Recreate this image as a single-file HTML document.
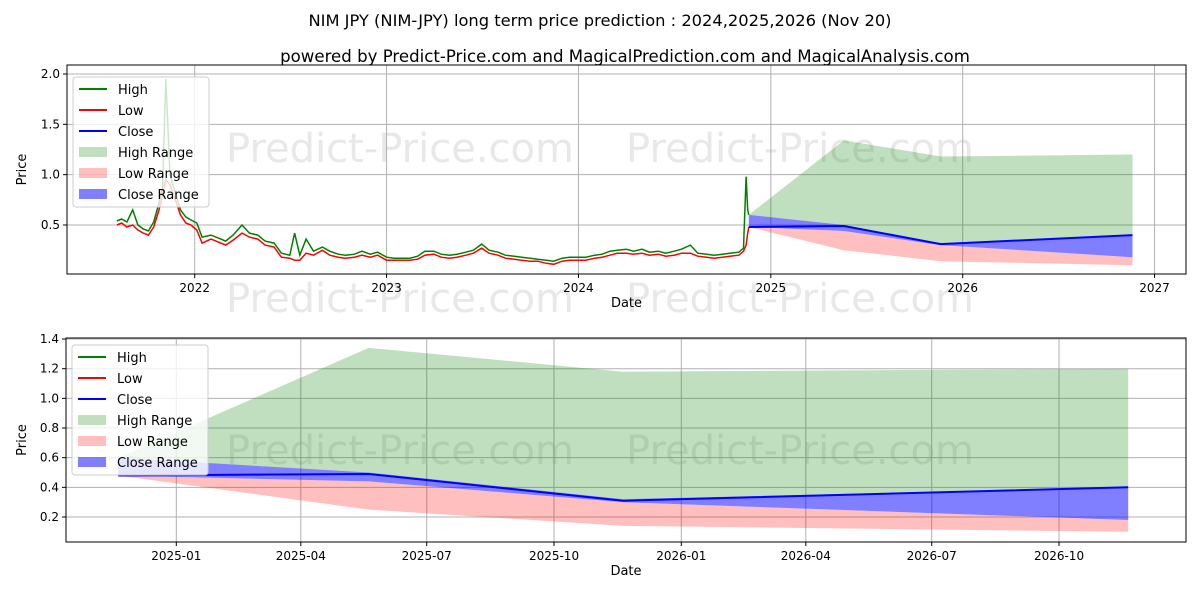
<!DOCTYPE html>
<html><head><meta charset="utf-8"><style>
body{margin:0;background:#fff;font-family:"Liberation Sans","DejaVu Sans",sans-serif;}
svg text{font-family:"DejaVu Sans","Liberation Sans",sans-serif;}
</style></head><body>
<svg id="c" width="1200" height="600" xmlns="http://www.w3.org/2000/svg">
<rect width="1200" height="600" fill="#fff"/>
<text x="600" y="26" font-size="16.3" text-anchor="middle">NIM JPY (NIM-JPY) long term price prediction : 2024,2025,2026 (Nov 20)</text>
<text x="625" y="62" font-size="16.6" text-anchor="middle">powered by Predict-Price.com and MagicalPrediction.com and MagicalAnalysis.com</text>
<g id="top"></g><g id="bot"></g>
</svg>
<script>
// historical data
const histDates=["2021-08-06","2021-08-15","2021-08-25","2021-09-05","2021-09-15","2021-09-25","2021-10-05","2021-10-15","2021-10-25","2021-11-01","2021-11-07","2021-11-15","2021-11-25","2021-12-05","2021-12-15","2021-12-25","2022-01-05","2022-01-15","2022-02-01","2022-02-15","2022-03-01","2022-03-15","2022-04-01","2022-04-15","2022-05-01","2022-05-15","2022-06-01","2022-06-15","2022-07-01","2022-07-10","2022-07-20","2022-08-01","2022-08-15","2022-09-01","2022-09-15","2022-10-01","2022-10-15","2022-11-01","2022-11-15","2022-12-01","2022-12-15","2023-01-01","2023-01-15","2023-02-01","2023-02-15","2023-03-01","2023-03-15","2023-04-01","2023-04-15","2023-05-01","2023-05-15","2023-06-01","2023-06-15","2023-07-01","2023-07-15","2023-08-01","2023-08-15","2023-09-01","2023-09-15","2023-10-01","2023-10-15","2023-11-01","2023-11-15","2023-12-01","2023-12-15","2024-01-01","2024-01-15","2024-02-01","2024-02-15","2024-03-01","2024-03-15","2024-04-01","2024-04-15","2024-05-01","2024-05-15","2024-06-01","2024-06-15","2024-07-01","2024-07-15","2024-08-01","2024-08-15","2024-09-01","2024-09-15","2024-10-01","2024-10-15","2024-11-01","2024-11-10","2024-11-15","2024-11-18","2024-11-20"];
const histLow=[0.5,0.52,0.48,0.5,0.45,0.42,0.4,0.48,0.65,0.8,0.95,0.9,0.75,0.6,0.52,0.5,0.45,0.32,0.36,0.33,0.3,0.35,0.42,0.38,0.36,0.3,0.28,0.18,0.17,0.15,0.15,0.22,0.2,0.25,0.2,0.18,0.17,0.18,0.2,0.18,0.2,0.15,0.15,0.15,0.15,0.16,0.2,0.21,0.18,0.17,0.18,0.2,0.22,0.27,0.22,0.2,0.17,0.16,0.15,0.14,0.14,0.12,0.11,0.14,0.15,0.15,0.15,0.17,0.18,0.2,0.22,0.22,0.21,0.22,0.2,0.21,0.19,0.2,0.22,0.22,0.19,0.18,0.17,0.18,0.19,0.2,0.24,0.3,0.42,0.48];
const histHigh=[0.54,0.56,0.53,0.65,0.5,0.46,0.44,0.53,0.72,0.88,1.95,1.0,0.82,0.65,0.58,0.55,0.52,0.38,0.4,0.37,0.34,0.4,0.5,0.42,0.4,0.34,0.32,0.22,0.2,0.42,0.2,0.36,0.24,0.28,0.24,0.21,0.2,0.21,0.24,0.21,0.23,0.18,0.17,0.17,0.17,0.19,0.24,0.24,0.21,0.2,0.21,0.23,0.25,0.31,0.25,0.23,0.2,0.19,0.18,0.17,0.16,0.15,0.14,0.17,0.18,0.18,0.18,0.2,0.21,0.24,0.25,0.26,0.24,0.26,0.23,0.24,0.22,0.24,0.26,0.3,0.22,0.21,0.2,0.21,0.22,0.23,0.27,0.98,0.65,0.6];
// prediction data
const predDates=["2024-11-20","2025-05-20","2025-11-20","2026-11-20"];
const predClose=[0.48,0.49,0.31,0.40];
const predHighMax=[0.60,1.34,1.18,1.20];
const predCloseHi=[0.60,0.50,0.32,0.40];
const predCloseLo=[0.48,0.44,0.30,0.18];
const predLowMin=[0.48,0.25,0.14,0.10];

const NS="http://www.w3.org/2000/svg";
const day=s=>Date.parse(s)/86400000;
function el(p,t,a){const e=document.createElementNS(NS,t);for(const k in a)e.setAttribute(k,a[k]);p.appendChild(e);return e;}
function pts(ds,vs,X,Y){return ds.map((d,i)=>X(day(d)).toFixed(1)+","+Y(vs[i]).toFixed(1));}
function band(ds,up,lo,X,Y){return pts(ds,up,X,Y).concat(pts(ds,lo,X,Y).reverse()).join(" ");}

function panel(g,o){
  const {L,R,T,B,X,Y,xt,yt,legY}=o;
  for(const [wx,wy] of o.wm){const w=el(g,"text",{x:wx,y:wy,"font-size":40,fill:"#e8e8e8","text-anchor":"middle"});w.textContent="Predict-Price.com";
  
  }
  xt.forEach(t=>{const x=X(day(t[0]));const l=el(g,"line",{x1:x,x2:x,y1:T,y2:B,stroke:"#b0b0b0","stroke-width":1});
  
  
  el(g,"line",{x1:x,x2:x,y1:B,y2:B+4,stroke:"#000"});
  const tx=el(g,"text",{x:x,y:B+18,"font-size":12,"text-anchor":"middle"});tx.textContent=t[1];
  
  });
  yt.forEach(v=>{const y=Y(v);const l=el(g,"line",{x1:L,x2:R,y1:y,y2:y,stroke:"#b0b0b0","stroke-width":1});
  
  
  el(g,"line",{x1:L-4,x2:L,y1:y,y2:y,stroke:"#000"});
  const tx=el(g,"text",{x:L-7,y:y+4,"font-size":12,"text-anchor":"end"});tx.textContent=v.toFixed(1);
  
  });
  const clip="cp"+T;const cp=el(g,"clipPath",{id:clip});el(cp,"rect",{x:L,y:T,width:R-L,height:B-T});
  const d=el(g,"g",{"clip-path":`url(#${clip})`});
  const hr=el(d,"polygon",{points:band(predDates,predHighMax,predCloseHi,X,Y),fill:"#008000","fill-opacity":0.25});
  
  
  const lr=el(d,"polygon",{points:band(predDates,predCloseLo,predLowMin,X,Y),fill:"#ff0000","fill-opacity":0.25});
  
  
  const cr=el(d,"polygon",{points:band(predDates,predCloseHi,predCloseLo,X,Y),fill:"#0000ff","fill-opacity":0.5});
  
  
  if(o.hist){
  const hl=el(d,"polyline",{points:pts(histDates,histHigh,X,Y).join(" "),fill:"none",stroke:"#008000","stroke-width":1.5});
  
  
  const ll=el(d,"polyline",{points:pts(histDates,histLow,X,Y).join(" "),fill:"none",stroke:"#ff0000","stroke-width":1.5});
  
  
  }
  const cl=el(d,"polyline",{points:pts(predDates,predClose,X,Y).join(" "),fill:"none",stroke:"#0000ff","stroke-width":2});
  
  
  const fr=el(g,"rect",{x:L,y:T,width:R-L,height:B-T,fill:"none",stroke:"#000","stroke-width":1});
  
  
  const xl=el(g,"text",{x:(L+R)/2,y:B+33,"font-size":13,"text-anchor":"middle"});xl.textContent="Date";
  
  
  const yl=el(g,"text",{x:0,y:0,"font-size":13,"text-anchor":"middle",transform:`translate(26,${(T+B)/2}) rotate(-90)`});yl.textContent="Price";
  
  
  const lg=el(g,"g",{});
  
  
  el(lg,"rect",{x:L+6,y:legY,width:136,height:130,fill:"#fff","fill-opacity":0.8,stroke:"#ccc",rx:3});
  const items=[["High","line","#008000"],["Low","line","#ff0000"],["Close","line","#0000ff"],["High Range","box","rgba(0,128,0,0.25)"],["Low Range","box","rgba(255,0,0,0.25)"],["Close Range","box","rgba(0,0,255,0.5)"]];
  items.forEach((it,i)=>{const y=legY+12+i*21;
    if(it[1]=="line")el(lg,"line",{x1:L+12,x2:L+40,y1:y,y2:y,stroke:it[2],"stroke-width":2});
    else el(lg,"rect",{x:L+12,y:y-5,width:28,height:10,fill:it[2]});
    const t=el(lg,"text",{x:L+51,y:y+5,"font-size":13});t.textContent=it[0];
    
    });
}
const d22=day("2022-01-01"),d25=day("2025-01-01");
panel(document.getElementById("top"),{L:67,R:1186,T:65,B:274,hist:true,
  X:d=>194.7+(d-d22)*(192/365.25),Y:v=>225-(v-0.5)*100.67,
  xt:[["2022-01-01","2022"],["2023-01-01","2023"],["2024-01-01","2024"],["2025-01-01","2025"],["2026-01-01","2026"],["2027-01-01","2027"]],
  yt:[0.5,1.0,1.5,2.0],legY:77,wm:[[400,162],[800,162],[400,312],[800,312]]});
panel(document.getElementById("bot"),{L:66,R:1186,T:338,B:542,hist:false,
  X:d=>176.3+(d-d25)*(505/365),Y:v=>517-(v-0.2)*148.3,
  xt:[["2025-01-01","2025-01"],["2025-04-01","2025-04"],["2025-07-01","2025-07"],["2025-10-01","2025-10"],["2026-01-01","2026-01"],["2026-04-01","2026-04"],["2026-07-01","2026-07"],["2026-10-01","2026-10"]],
  yt:[0.2,0.4,0.6,0.8,1.0,1.2,1.4],legY:345,wm:[[400,464],[800,464]]});
</script>
</body></html>
